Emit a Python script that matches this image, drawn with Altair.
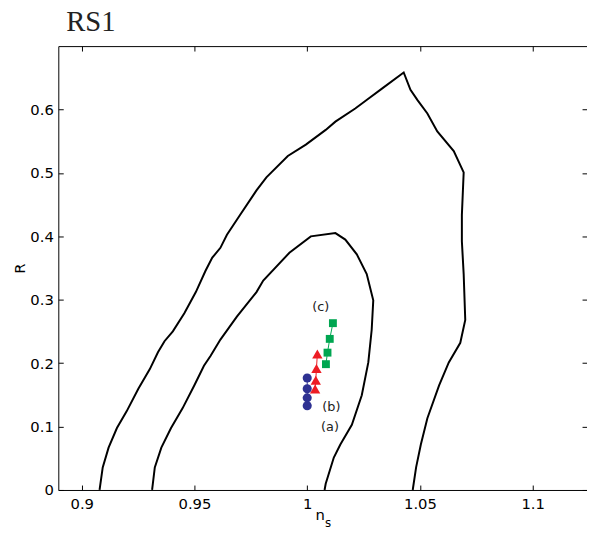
import altair as alt
import pandas as pd

# Outer contour (n_s, R)
outer_ns = [0.9079, 0.9093, 0.9119, 0.9156, 0.9199, 0.9251, 0.9302, 0.9338, 0.9367, 0.9404,
            0.9455, 0.9506, 0.9549, 0.9579, 0.9615, 0.9644, 0.9702, 0.9775, 0.9819, 0.9914,
            0.9994, 1.0082, 1.0125, 1.0213, 1.0271, 1.0330, 1.0428, 1.0458, 1.0490, 1.0533,
            1.0577, 1.0650, 1.0694, 1.0686, 1.0686, 1.0694, 1.0701, 1.0679, 1.0628, 1.0585,
            1.0533, 1.0504, 1.0483, 1.0468]
outer_r = [0.0, 0.0357, 0.0667, 0.0977, 0.1240, 0.1597, 0.1907, 0.2171, 0.2346, 0.2501,
           0.2786, 0.3121, 0.3457, 0.3664, 0.3819, 0.4026, 0.4336, 0.4724, 0.4930, 0.5267,
           0.5447, 0.5679, 0.5809, 0.6016, 0.6171, 0.6326, 0.6584, 0.6310, 0.6144, 0.5938,
           0.5654, 0.5344, 0.5008, 0.4336, 0.3922, 0.3406, 0.2682, 0.2321, 0.2011, 0.1648,
           0.1132, 0.0718, 0.0357, 0.0]

# Inner contour (n_s, R)
inner_ns = [0.9312, 0.9324, 0.9353, 0.9396, 0.9447, 0.9499, 0.9542, 0.9571, 0.9615, 0.9688,
            0.9775, 0.9805, 0.9921, 1.0016, 1.0125, 1.0169, 1.0220, 1.0264, 1.0293, 1.0286,
            1.0271, 1.0242, 1.0198, 1.0147, 1.0118, 1.0082, 1.0077]
inner_r = [0.0, 0.0357, 0.0667, 0.0977, 0.1287, 0.1648, 0.1958, 0.2113, 0.2372, 0.2733,
           0.3121, 0.3302, 0.3741, 0.4000, 0.4051, 0.3949, 0.3716, 0.3406, 0.2992, 0.2527,
           0.2011, 0.1493, 0.1028, 0.0718, 0.0512, 0.0098, 0.0]

# Model predictions
a_ns = [1.0000, 1.0000, 1.0000, 1.0000]
a_r = [0.1767, 0.1597, 0.1453, 0.1329]
b_ns = [1.0045, 1.0041, 1.0038, 1.0035]
b_r = [0.2143, 0.1915, 0.1732, 0.1594]
c_ns = [1.0114, 1.0100, 1.0090, 1.0083]
c_r = [0.2631, 0.2383, 0.2166, 0.1984]

label_text = ["(a)", "(b)", "(c)"]
label_ns = [1.0101, 1.0107, 1.0060]
label_r = [0.0988, 0.1313, 0.2879]

x_ticks = [0.9, 0.95, 1.0, 1.05, 1.1]
y_ticks = [0.0, 0.1, 0.2, 0.3, 0.4, 0.5, 0.6]

W, H = 536, 450
FONT = "DejaVu Sans"


def frame(xs, ys):
    return pd.DataFrame({"ns": xs, "r": ys, "i": list(range(len(xs)))})


xs = alt.Scale(domain=[0.8896, 1.1241], nice=False, zero=False)
ys = alt.Scale(domain=[0.0, 0.7], nice=False, zero=False)

ax_main_x = alt.Axis(orient="bottom", values=x_ticks, format="~g", ticks=False, domain=True,
                     domainColor="black", domainWidth=1, labelPadding=7, labelFont=FONT,
                     labelFontSize=15, labelColor="black", title="n", titleFont=FONT,
                     titleFontSize=15, titleFontWeight="normal", titleColor="black",
                     titleX=265, titleY=30, titleBaseline="alphabetic", titleAlign="center",
                     grid=False)
ax_main_y = alt.Axis(orient="left", values=y_ticks, format="~g", ticks=False, domain=True,
                     domainColor="black", domainWidth=1, labelPadding=5, labelFont=FONT,
                     labelFontSize=15, labelColor="black", title="R", titleFont=FONT,
                     titleFontSize=15, titleFontWeight="normal", titleColor="black",
                     titlePadding=2, grid=False)


def tick_axis(orient, vals):
    return alt.Axis(orient=orient, values=vals, offset=-5, tickSize=5, ticks=True,
                    tickColor="black", tickWidth=1, domain=False, labels=False,
                    title=None, grid=False)


ax_top_domain = alt.Axis(orient="top", values=x_ticks, ticks=False, labels=False,
                         domain=True, domainColor="black", domainWidth=1, title=None,
                         grid=False)

outer = alt.Chart(frame(outer_ns, outer_r)).mark_line(color="black", strokeWidth=2).encode(
    x=alt.X("ns:Q", scale=xs, axis=ax_main_x),
    y=alt.Y("r:Q", scale=ys, axis=ax_main_y),
    order="i:Q")

inner = alt.Chart(frame(inner_ns, inner_r)).mark_line(color="black", strokeWidth=2).encode(
    x=alt.X("ns:Q", scale=xs, axis=tick_axis("bottom", x_ticks)),
    y=alt.Y("r:Q", scale=ys, axis=tick_axis("left", y_ticks)),
    order="i:Q")

BLUE, RED, GREEN = "#2e3192", "#ed1c24", "#00a651"

a_line = alt.Chart(frame(a_ns, a_r)).mark_line(color=BLUE, strokeWidth=1).encode(
    x=alt.X("ns:Q", scale=xs, axis=ax_top_domain),
    y=alt.Y("r:Q", scale=ys, axis=tick_axis("right", y_ticks)),
    order="i:Q")
a_pts = alt.Chart(frame(a_ns, a_r)).mark_point(shape="circle", filled=True, opacity=1,
                                               color=BLUE, size=85).encode(
    x=alt.X("ns:Q", scale=xs, axis=tick_axis("top", x_ticks)),
    y=alt.Y("r:Q", scale=ys, axis=None))

b_line = alt.Chart(frame(b_ns, b_r)).mark_line(color=RED, strokeWidth=1).encode(
    x=alt.X("ns:Q", scale=xs, axis=None), y=alt.Y("r:Q", scale=ys, axis=None), order="i:Q")
b_pts = alt.Chart(frame(b_ns, b_r)).mark_point(shape="triangle-up", filled=True, opacity=1,
                                               color=RED, size=110).encode(
    x=alt.X("ns:Q", scale=xs, axis=None), y=alt.Y("r:Q", scale=ys, axis=None))

c_line = alt.Chart(frame(c_ns, c_r)).mark_line(color=GREEN, strokeWidth=1).encode(
    x=alt.X("ns:Q", scale=xs, axis=None), y=alt.Y("r:Q", scale=ys, axis=None), order="i:Q")
c_pts = alt.Chart(frame(c_ns, c_r)).mark_point(shape="square", filled=True, opacity=1,
                                               color=GREEN, size=64).encode(
    x=alt.X("ns:Q", scale=xs, axis=None), y=alt.Y("r:Q", scale=ys, axis=None))

labels = alt.Chart(pd.DataFrame({"ns": label_ns, "r": label_r, "t": label_text})).mark_text(
    font=FONT, fontSize=13, color="#222222", align="center", baseline="middle").encode(
    x=alt.X("ns:Q", scale=xs, axis=None), y=alt.Y("r:Q", scale=ys, axis=None), text="t:N")

sub = alt.Chart(pd.DataFrame({"t": ["s"]})).mark_text(
    font=FONT, fontSize=12, color="black", align="center", baseline="alphabetic").encode(
    x=alt.value(273.5), y=alt.value(488), text="t:N")

title = alt.Chart(pd.DataFrame({"t": ["RS1"]})).mark_text(
    font="Liberation Serif", fontSize=29, color="#222222", align="left",
    baseline="alphabetic").encode(x=alt.value(8), y=alt.value(-15.5), text="t:N")

chart = alt.layer(outer, inner, a_line, a_pts, b_line, b_pts, c_line, c_pts, labels, sub,
                  title).resolve_axis(
    x="independent", y="independent"
).properties(
    width=W, height=H,
    padding={"left": 51, "top": 35, "right": 0, "bottom": 42},
    autosize=alt.AutoSizeParams(type="none"),
).configure_view(stroke=None).configure_axis(grid=False)

chart.save("out.html", embed_options={"renderer": "svg", "actions": False})
